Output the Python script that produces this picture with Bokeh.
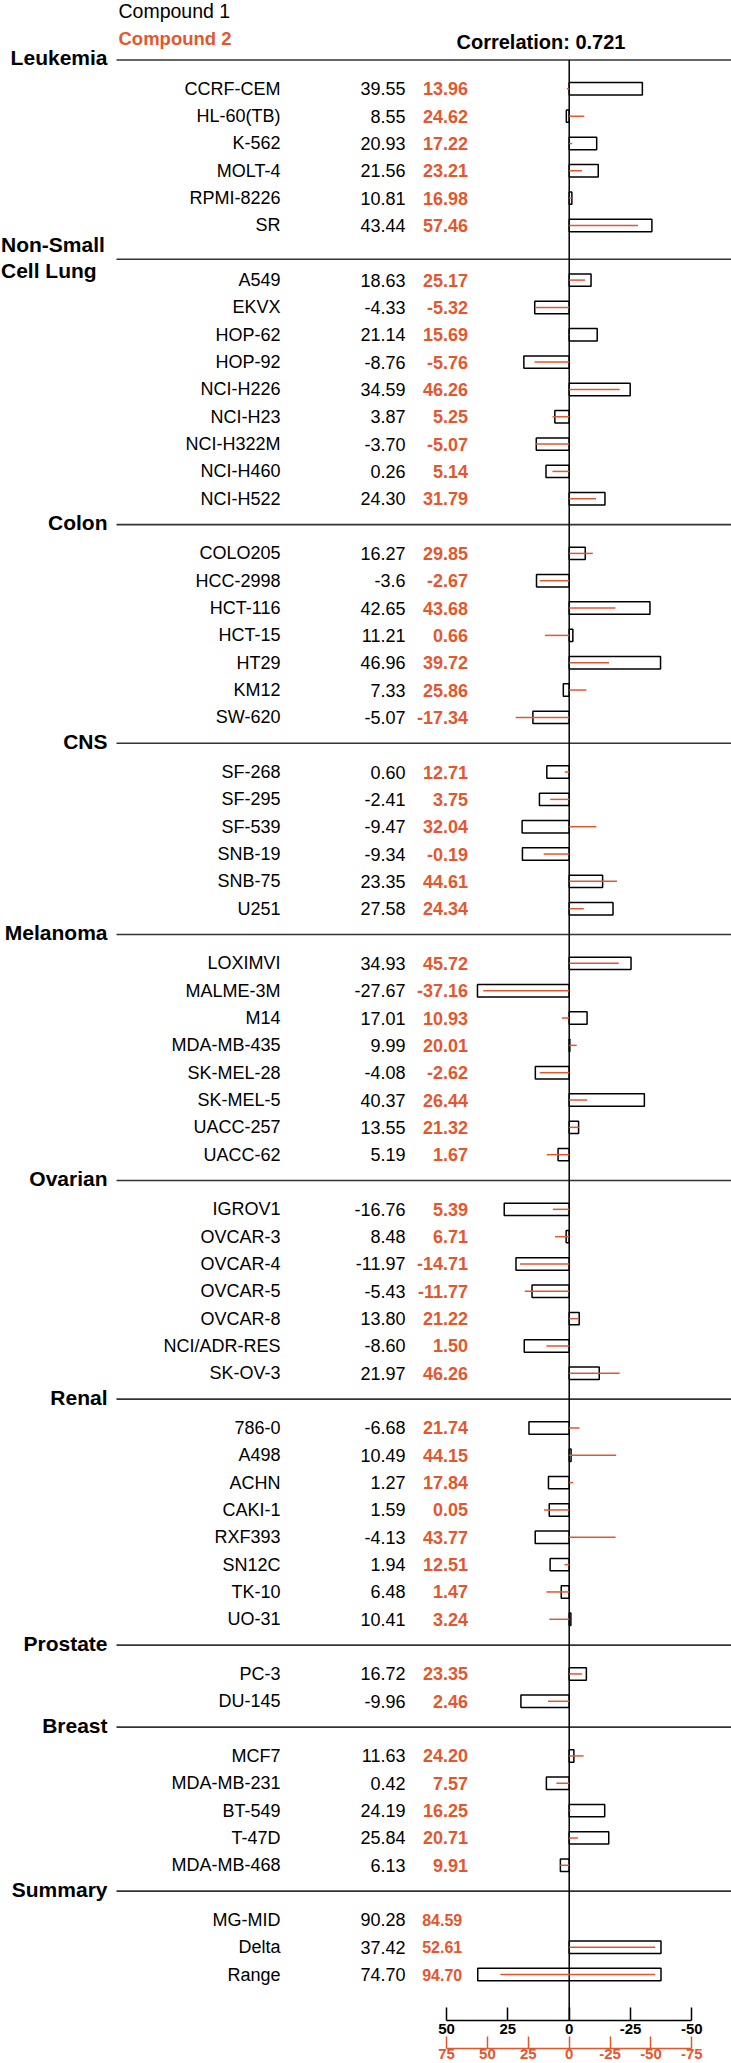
import numpy as np
from bokeh.plotting import figure
from bokeh.models import Range1d, LinearAxis, FixedTicker, ColumnDataSource
from bokeh.core.properties import value
from bokeh.embed import file_html
from bokeh.resources import INLINE

# ---------------- data ----------------
panels = ["Leukemia", "Non-Small Cell Lung", "Colon", "CNS", "Melanoma",
          "Ovarian", "Renal", "Prostate", "Breast"]
panel_counts = [6, 9, 7, 6, 8, 7, 8, 2, 5]
cell_lines = ["CCRF-CEM", "HL-60(TB)", "K-562", "MOLT-4", "RPMI-8226", "SR",
              "A549", "EKVX", "HOP-62", "HOP-92", "NCI-H226", "NCI-H23", "NCI-H322M", "NCI-H460", "NCI-H522",
              "COLO205", "HCC-2998", "HCT-116", "HCT-15", "HT29", "KM12", "SW-620",
              "SF-268", "SF-295", "SF-539", "SNB-19", "SNB-75", "U251",
              "LOXIMVI", "MALME-3M", "M14", "MDA-MB-435", "SK-MEL-28", "SK-MEL-5", "UACC-257", "UACC-62",
              "IGROV1", "OVCAR-3", "OVCAR-4", "OVCAR-5", "OVCAR-8", "NCI/ADR-RES", "SK-OV-3",
              "786-0", "A498", "ACHN", "CAKI-1", "RXF393", "SN12C", "TK-10", "UO-31",
              "PC-3", "DU-145",
              "MCF7", "MDA-MB-231", "BT-549", "T-47D", "MDA-MB-468"]
compound1 = ["39.55", "8.55", "20.93", "21.56", "10.81", "43.44",
             "18.63", "-4.33", "21.14", "-8.76", "34.59", "3.87", "-3.70", "0.26", "24.30",
             "16.27", "-3.6", "42.65", "11.21", "46.96", "7.33", "-5.07",
             "0.60", "-2.41", "-9.47", "-9.34", "23.35", "27.58",
             "34.93", "-27.67", "17.01", "9.99", "-4.08", "40.37", "13.55", "5.19",
             "-16.76", "8.48", "-11.97", "-5.43", "13.80", "-8.60", "21.97",
             "-6.68", "10.49", "1.27", "1.59", "-4.13", "1.94", "6.48", "10.41",
             "16.72", "-9.96",
             "11.63", "0.42", "24.19", "25.84", "6.13"]
compound2 = ["13.96", "24.62", "17.22", "23.21", "16.98", "57.46",
             "25.17", "-5.32", "15.69", "-5.76", "46.26", "5.25", "-5.07", "5.14", "31.79",
             "29.85", "-2.67", "43.68", "0.66", "39.72", "25.86", "-17.34",
             "12.71", "3.75", "32.04", "-0.19", "44.61", "24.34",
             "45.72", "-37.16", "10.93", "20.01", "-2.62", "26.44", "21.32", "1.67",
             "5.39", "6.71", "-14.71", "-11.77", "21.22", "1.50", "46.26",
             "21.74", "44.15", "17.84", "0.05", "43.77", "12.51", "1.47", "3.24",
             "23.35", "2.46",
             "24.20", "7.57", "16.25", "20.71", "9.91"]
summary_labels = ["MG-MID", "Delta", "Range"]
summary1 = ["90.28", "37.42", "74.70"]
summary2 = ["84.59", "52.61", "94.70"]
correlation = "0.721"
axis1_ticks = [50, 25, 0, -25, -50]
axis2_ticks = [75, 50, 25, 0, -25, -50, -75]

# ---------------- style / layout ----------------
ORANGE = "#E4572E"
FONT = "Liberation Sans"
W = 731
HF = 2020          # frame height (above the two bottom axes)
Y0 = 88.3          # first row centre
PITCH = 27.33
ZERO_PX = 568.7
PX1 = 2.453        # px per unit, compound 1 scale
PX2 = PX1 / 1.5    # px per unit, compound 2 scale

v1 = np.array([float(s) for s in compound1])
v2 = np.array([float(s) for s in compound2])
mean1, mean2 = v1.mean(), v2.mean()
dev1 = mean1 - v1
dev2 = mean2 - v2

# row / header positions
row_y, header_y = [], []
slot = 0
for n in panel_counts + [len(summary_labels)]:
    header_y.append(Y0 + (slot - 1) * PITCH - 1.5)
    for k in range(n):
        row_y.append(Y0 + slot * PITCH)
        slot += 1
    slot += 1
header_line_y = list(header_y)
header_line_y[1] = header_y[1] + 8.0
cell_y = row_y[:len(cell_lines)]
sum_y = row_y[len(cell_lines):]

p = figure(frame_width=W, frame_height=HF, output_backend="svg", toolbar_location=None,
           x_range=Range1d(0, W), y_range=Range1d(HF, 0),
           x_axis_location=None, y_axis_location=None,
           min_border=0, min_border_left=0, min_border_right=0,
           min_border_top=0, min_border_bottom=0)
p.grid.visible = False
p.outline_line_color = None
p.extra_x_ranges = {
    "c1": Range1d(ZERO_PX / PX1, -(W - ZERO_PX) / PX1),
    "c2": Range1d(ZERO_PX / PX2, -(W - ZERO_PX) / PX2),
}

# header lines
p.segment(x0=[116] * len(header_line_y), x1=[W] * len(header_line_y),
          y0=header_line_y, y1=header_line_y, line_color="#333333", line_width=1.6)

# header texts
hdr_txt, hdr_x, hdr_yy, hdr_align = [], [], [], []
for i, name in enumerate(panels + ["Summary"]):
    if name == "Non-Small Cell Lung":
        hdr_txt += ["Non-Small", "Cell Lung"]
        hdr_x += [0.5, 0.5]
        hdr_yy += [header_line_y[i] - 15, header_line_y[i] + 11.7]
        hdr_align += ["left", "left"]
    else:
        hdr_txt.append(name)
        hdr_x.append(107)
        hdr_yy.append(header_line_y[i] - 2)
        hdr_align.append("right")
p.text(x="x", y="y", text="t", text_align="a",
       source=ColumnDataSource(dict(x=hdr_x, y=hdr_yy, t=hdr_txt, a=hdr_align)),
       text_font=value(FONT), text_font_style="bold", text_font_size=value("21px"),
       text_baseline="middle", text_color="black")

# top legend texts
p.text(x=[118], y=[10], text=["Compound 1"], text_font=value(FONT),
       text_font_size=value("19.5px"), text_baseline="middle", text_color="black")
p.text(x=[118], y=[38], text=["Compound 2"], text_font=value(FONT), text_font_style="bold",
       text_font_size=value("18.5px"), text_baseline="middle", text_color=ORANGE)
p.text(x=[456], y=[41.7], text=["Correlation: " + correlation], text_font=value(FONT),
       text_font_style="bold", text_font_size=value("20px"), text_baseline="middle",
       text_color="black")

# table texts
all_names = cell_lines + summary_labels
p.text(x=[280] * len(all_names), y=row_y, text=all_names, text_font=value(FONT),
       text_font_size=value("18px"), text_align="right", text_baseline="middle",
       text_color="black")
p.text(x=[405] * len(row_y), y=row_y, text=compound1 + summary1, text_font=value(FONT),
       text_font_size=value("18px"), text_align="right", text_baseline="middle",
       text_color="black")
p.text(x=[467.5] * len(cell_y), y=cell_y, text=compound2, text_font=value(FONT),
       text_font_style="bold", text_font_size=value("18px"), text_align="right",
       text_baseline="middle", text_color=ORANGE)
p.text(x=[421.7] * len(sum_y), y=sum_y, text=summary2, text_font=value(FONT),
       text_font_style="bold", text_font_size=value("16px"), text_align="left",
       text_baseline="middle", text_color=ORANGE)

# bars (compound 1) : cell lines + Delta + Range
d1, rg1 = float(summary1[1]), float(summary1[2])
d2, rg2 = float(summary2[1]), float(summary2[2])
BH = 6.2
bar_left = [0.0] * len(cell_y) + [0.0, rg1 - d1]
bar_right = list(dev1) + [-d1, -d1]
bar_y = cell_y + [sum_y[1], sum_y[2]]
p.quad(left=bar_left, right=bar_right,
       top=[y - BH for y in bar_y], bottom=[y + BH for y in bar_y],
       x_range_name="c1", fill_color="white", line_color="black", line_width=1.5)

# zero line
p.segment(x0=[0], x1=[0], y0=[header_line_y[0]], y1=[HF + 50], x_range_name="c1",
          line_color="black", line_width=1.5)

# compound 2 lines
ln_x0 = [0.0] * len(cell_y) + [0.0, rg2 - d2]
ln_x1 = list(dev2) + [-d2, -d2]
p.segment(x0=ln_x0, x1=ln_x1, y0=bar_y, y1=bar_y, x_range_name="c2",
          line_color=ORANGE, line_width=1.5)

# axes
ax1 = LinearAxis(x_range_name="c1", bounds=(min(axis1_ticks), max(axis1_ticks)),
                 ticker=FixedTicker(ticks=axis1_ticks),
                 major_label_overrides={t: str(t) for t in axis1_ticks},
                 major_tick_in=13, major_tick_out=0, minor_tick_line_color=None,
                 axis_line_width=1.5, major_tick_line_width=1.5,
                 major_label_standoff=3, major_label_text_font=FONT,
                 major_label_text_font_style="bold", major_label_text_font_size="15px",
                 major_label_text_color="black",
                 axis_label=" ", axis_label_standoff=0,
                 axis_label_text_font_size="8px")
ax2 = LinearAxis(x_range_name="c2", bounds=(min(axis2_ticks), max(axis2_ticks)),
                 ticker=FixedTicker(ticks=axis2_ticks),
                 major_label_overrides={t: str(t) for t in axis2_ticks},
                 major_tick_in=12, major_tick_out=0, minor_tick_line_color=None,
                 axis_line_width=1.5, major_tick_line_width=1.5,
                 axis_line_color=ORANGE, major_tick_line_color=ORANGE,
                 major_label_standoff=0, major_label_text_font=FONT,
                 major_label_text_font_style="bold", major_label_text_font_size="15px",
                 major_label_text_color=ORANGE)
p.add_layout(ax1, "below")
p.add_layout(ax2, "below")

open("out.html", "w").write(file_html(p, INLINE))
